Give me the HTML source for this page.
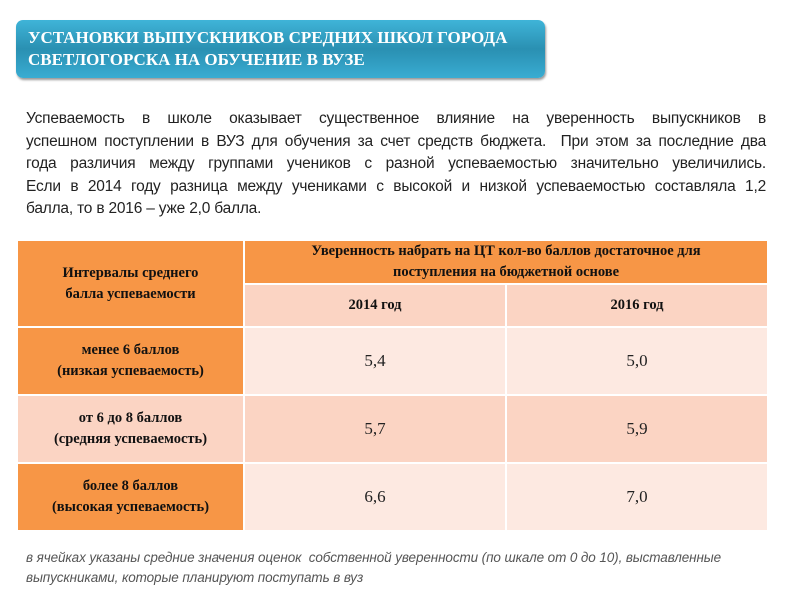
<!DOCTYPE html>
<html><head><meta charset="utf-8"><style>
body{margin:0;width:800px;height:600px;background:#fff;position:relative;overflow:hidden;font-family:"Liberation Sans",sans-serif}
.title{position:absolute;left:16px;top:20px;width:529px;height:58px;border-radius:7px;background:linear-gradient(#3fb4d8,#2a90b2 50%,#39acd2);box-shadow:1px 2px 2px #999;color:#fff;font-family:"Liberation Serif",serif;font-weight:bold;font-size:17px;line-height:22px;padding:7px 0 0 12px;box-sizing:border-box}
.p{position:absolute;left:26px;top:108px;width:740px;font-size:15.5px;line-height:22.5px;color:#222;letter-spacing:-0.2px}
.p div{text-align:justify;text-align-last:justify;white-space:nowrap}
.p div.l{text-align-last:left}
table{position:absolute;left:16px;top:239px;width:753px;border-collapse:collapse;font-family:"Liberation Serif",serif}
td{border:2px solid #fff;text-align:center;padding:0}
.o{background:#f79646}.a{background:#fde9e1}.b{background:#fbd4c3}
.h{font-weight:bold;font-size:14.5px;line-height:21px;color:#111}
.v{font-size:17px;color:#222}
.f{position:absolute;left:26px;top:548px;font-size:13.5px;line-height:20px;color:#555;font-style:italic;letter-spacing:-0.1px}
</style></head><body>
<div class="title">УСТАНОВКИ ВЫПУСКНИКОВ СРЕДНИХ ШКОЛ ГОРОДА<br>СВЕТЛОГОРСКА НА ОБУЧЕНИЕ В ВУЗЕ</div>
<div class="p">
<div>Успеваемость в школе оказывает существенное влияние на уверенность выпускников в</div>
<div>успешном поступлении в ВУЗ для обучения за счет средств бюджета.&nbsp; При этом за последние два</div>
<div>года различия между группами учеников с разной успеваемостью значительно увеличились.</div>
<div>Если в 2014 году разница между учениками с высокой и низкой успеваемостью составляла 1,2</div>
<div class="l">балла, то в 2016 – уже 2,0 балла.</div>
</div>
<table>
<tr style="height:44px"><td class="o h" rowspan="2" style="width:225px">Интервалы среднего<br>балла успеваемости</td><td class="o h" colspan="2">Уверенность набрать на ЦТ кол-во баллов достаточное для<br>поступления на бюджетной основе</td></tr>
<tr style="height:43px"><td class="b h">2014 год</td><td class="b h">2016 год</td></tr>
<tr style="height:68px"><td class="o h">менее 6 баллов<br>(низкая успеваемость)</td><td class="a v">5,4</td><td class="a v">5,0</td></tr>
<tr style="height:68px"><td class="b h">от 6 до 8 баллов<br>(средняя успеваемость)</td><td class="b v">5,7</td><td class="b v">5,9</td></tr>
<tr style="height:68px"><td class="o h">более 8 баллов<br>(высокая успеваемость)</td><td class="a v">6,6</td><td class="a v">7,0</td></tr>
</table>
<div class="f">в ячейках указаны средние значения оценок&nbsp; собственной уверенности (по шкале от 0 до 10), выставленные<br>выпускниками, которые планируют поступать в вуз</div>
</body></html>
